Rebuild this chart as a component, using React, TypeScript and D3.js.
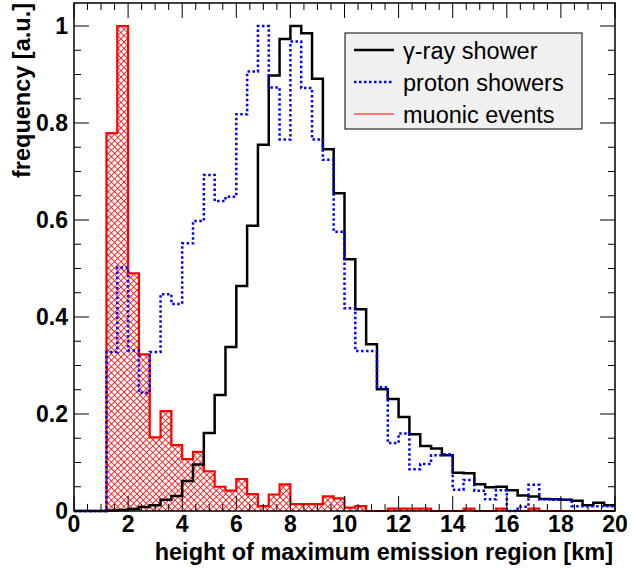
import React from "react";
import * as d3 from "d3";

const binWidth = 0.4;
const gammaShower = [0,0,0,0.001,0.002,0.004,0.008,0.012,0.023,0.031,
  0.062,0.096,0.161,0.239,0.338,0.464,0.588,0.755,0.898,0.973,
  1.0,0.985,0.891,0.746,0.655,0.519,0.416,0.344,0.251,0.231,
  0.194,0.158,0.134,0.129,0.115,0.079,0.078,0.055,0.049,0.050,
  0.043,0.032,0.030,0.025,0.024,0.023,0.021,0.012,0.017,0.012];
const protonShowers = [0,0,0,0.328,0.502,0.331,0.244,0.328,0.447,0.427,
  0.552,0.598,0.693,0.639,0.648,0.818,0.906,1.0,0.873,0.766,
  0.968,0.872,0.766,0.724,0.576,0.418,0.330,0.330,0.255,0.140,
  0.160,0.086,0.097,0.115,0.117,0.044,0.064,0.042,0.024,0.043,
  0,0.009,0.054,0.024,0.023,0.023,0.010,0.010,0.010,0.010];
const muonicEvents = [0,0,0,0.779,1.0,0.49,0.323,0.152,0.206,0.136,
  0.107,0.122,0.082,0.050,0.042,0.066,0.035,0.010,0.034,0.055,
  0.014,0.014,0.014,0.030,0.026,0.007,0.010,0,0,0.005,
  0.005,0.005,0.005,0,0,0,0.005,0,0,0.005,
  0,0,0.005,0,0,0,0,0,0,0];
const xTickLabels = ["0","2","4","6","8","10","12","14","16","18","20"];
const yTickLabels = ["0","0.2","0.4","0.6","0.8","1"];
const legendLabels = ["\u03b3-ray shower", "proton showers", "muonic events"];

const W = 632, H = 571;
const L = 74, R = 615, T = 3, B = 511;
const FONT = "'Liberation Sans', Arial, Helvetica, sans-serif";

export default function App() {
  const x = d3.scaleLinear().domain([0, 20]).range([L, R]);
  const y = d3.scaleLinear().domain([0, 1.0474]).range([B, T]);

  const pts = (vals: number[]) => {
    const p: [number, number][] = vals.map((v, i) => [i * binWidth, v]);
    p.push([vals.length * binWidth, vals[vals.length - 1]]);
    return p;
  };
  const line = d3.line<[number, number]>().x(d => x(d[0])).y(d => y(d[1])).curve(d3.curveStepAfter);
  const area = d3.area<[number, number]>().x(d => x(d[0])).y0(y(0)).y1(d => y(d[1])).curve(d3.curveStepAfter);

  const xMajor = xTickLabels.map(Number);
  const xMinor = d3.range(0, 20.001, 0.5).filter(v => Math.abs(v / 2 - Math.round(v / 2)) > 1e-6);
  const yMajor = yTickLabels.map(Number);
  const yMinor = d3.range(0, 1.04, 0.05).filter(v => Math.abs(v / 0.2 - Math.round(v / 0.2)) > 1e-6);

  const maj = 15, min = 7;

  return (
    <svg width={W} height={H} style={{ position: "absolute", left: 0, top: 0, background: "#fff" }} fontFamily={FONT}>
      <defs>
        <pattern id="hatch" width="4.5" height="4.5" patternUnits="userSpaceOnUse" patternTransform="rotate(45)">
          <line x1="0" y1="0" x2="4.5" y2="0" stroke="#ff0000" strokeWidth="1.6" />
          <line x1="0" y1="0" x2="0" y2="4.5" stroke="#ff0000" strokeWidth="1.6" />
        </pattern>
        <clipPath id="frame">
          <rect x={L} y={T} width={R - L} height={B - T + 3} />
        </clipPath>
      </defs>
      <rect x={0} y={0} width={W} height={H} fill="#fff" />
      <g clipPath="url(#frame)">
        <path d={area(pts(muonicEvents)) || ""} fill="url(#hatch)" stroke="none" />
        <path d={line(pts(muonicEvents)) || ""} fill="none" stroke="#ff0000" strokeWidth={2.2} />
        <path d={line(pts(gammaShower)) || ""} fill="none" stroke="#000" strokeWidth={2.5} />
        <path d={line(pts(protonShowers)) || ""} fill="none" stroke="#0000ff" strokeWidth={2.5} strokeDasharray="2.5,2.5" />
      </g>
      {/* frame */}
      <rect x={L} y={T} width={R - L} height={B - T} fill="none" stroke="#000" strokeWidth={1.5} />
      {/* ticks */}
      <g stroke="#000" strokeWidth={1}>
        {xMajor.map(v => (
          <g key={"xm" + v}>
            <line x1={x(v)} x2={x(v)} y1={B} y2={B - maj} />
            <line x1={x(v)} x2={x(v)} y1={T} y2={T + maj} />
          </g>
        ))}
        {xMinor.map(v => (
          <g key={"xn" + v}>
            <line x1={x(v)} x2={x(v)} y1={B} y2={B - min} />
            <line x1={x(v)} x2={x(v)} y1={T} y2={T + min} />
          </g>
        ))}
        {yMajor.map(v => (
          <g key={"ym" + v}>
            <line x1={L} x2={L + maj} y1={y(v)} y2={y(v)} />
            <line x1={R} x2={R - maj} y1={y(v)} y2={y(v)} />
          </g>
        ))}
        {yMinor.map(v => (
          <g key={"yn" + v}>
            <line x1={L} x2={L + min} y1={y(v)} y2={y(v)} />
            <line x1={R} x2={R - min} y1={y(v)} y2={y(v)} />
          </g>
        ))}
      </g>
      {/* tick labels */}
      <g fontWeight="bold" fontSize={23} fill="#000">
        {xTickLabels.map((t, i) => (
          <text key={"xl" + t} x={x(xMajor[i])} y={532} textAnchor="middle">{t}</text>
        ))}
        {yTickLabels.map((t, i) => (
          <text key={"yl" + t} x={68} y={y(yMajor[i]) + 8} textAnchor="end">{t}</text>
        ))}
      </g>
      {/* axis titles */}
      <text x={613} y={560} textAnchor="end" fontWeight="bold" fontSize={23.5}>height of maximum emission region [km]</text>
      <text transform={`translate(30,${T}) rotate(-90)`} textAnchor="end" fontWeight="bold" fontSize={23.5}>frequency [a.u.]</text>
      {/* legend */}
      <g>
        <rect x={345} y={33} width={237} height={96} fill="#f0f0f0" stroke="#000" strokeWidth={1} />
        {legendLabels.map((lab, i) => {
          const ly = 50 + i * 32;
          const st = i === 0 ? { stroke: "#000", w: 2.5, dash: undefined } : i === 1 ? { stroke: "#0000ff", w: 2.5, dash: "2.5,2.5" } : { stroke: "#ff0000", w: 1.2, dash: undefined };
          return (
            <g key={lab}>
              <line x1={354} x2={394} y1={ly} y2={ly} stroke={st.stroke} strokeWidth={st.w} strokeDasharray={st.dash} />
              <text x={403} y={ly + 8.5} fontSize={23.5} fill="#000">{lab}</text>
            </g>
          );
        })}
      </g>
    </svg>
  );
}
